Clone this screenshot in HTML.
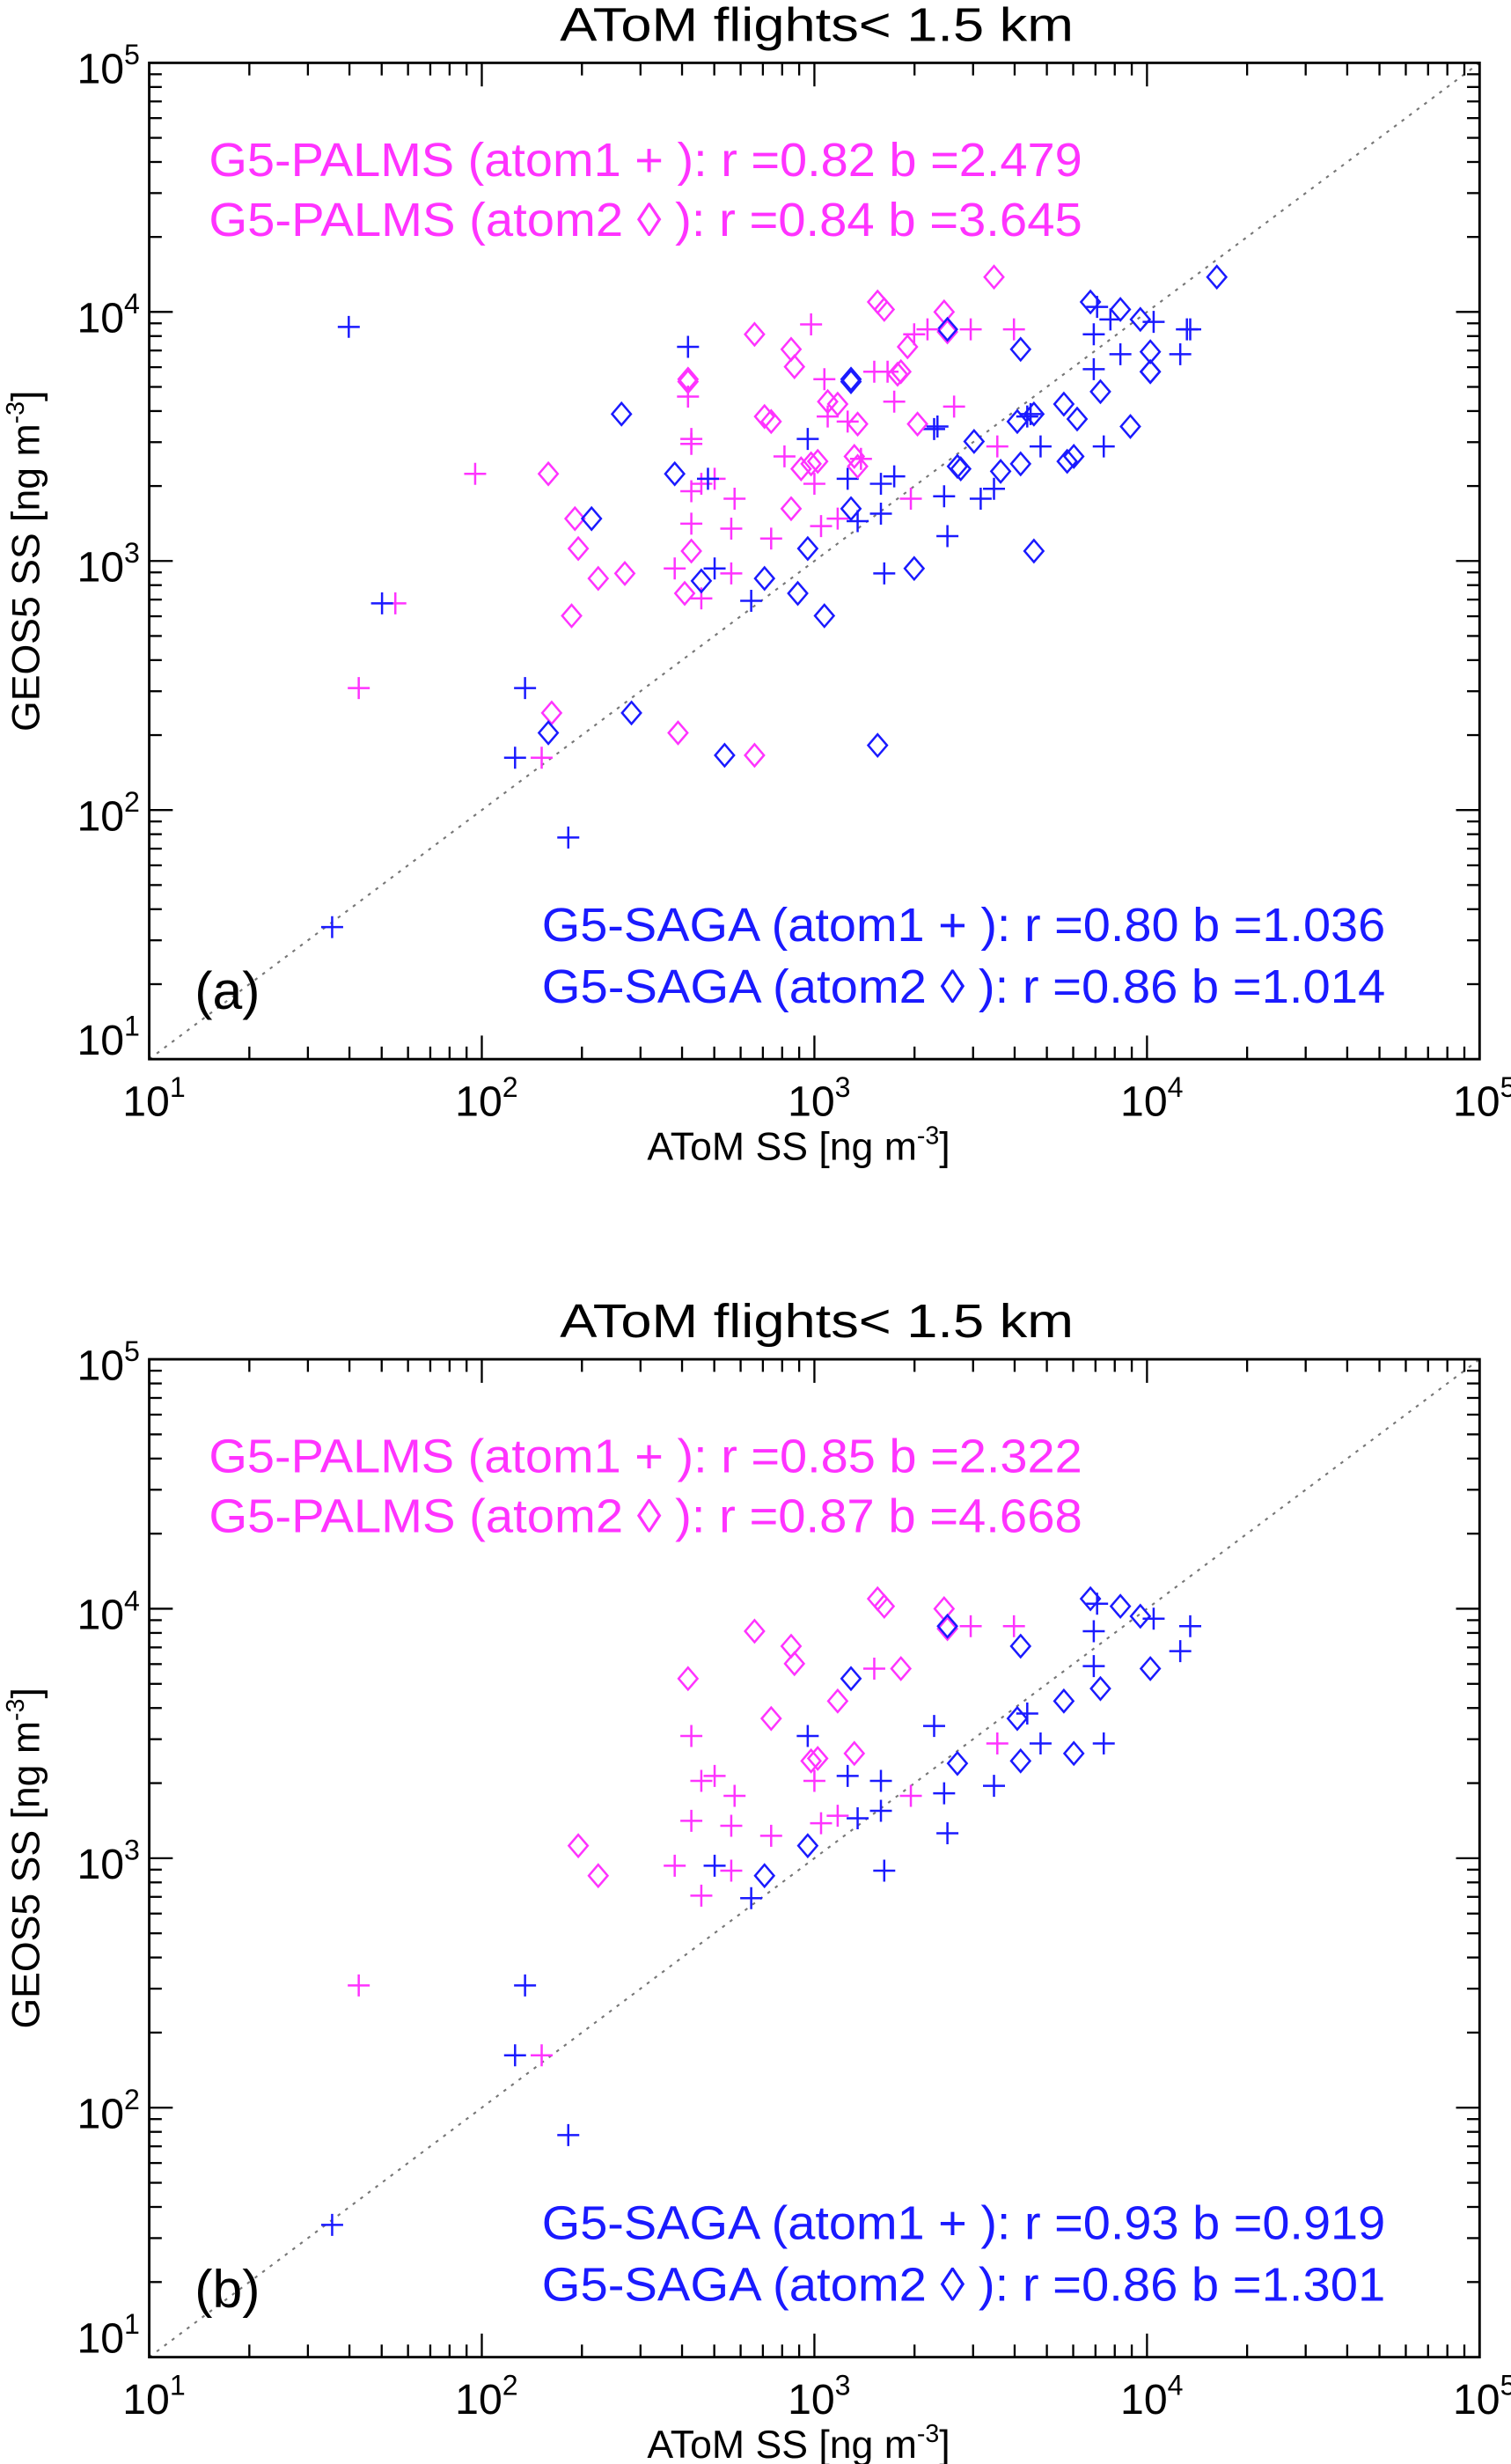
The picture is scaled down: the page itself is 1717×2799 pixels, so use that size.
<!DOCTYPE html>
<html><head><meta charset="utf-8"><title>AToM flights scatter</title>
<style>
html,body{margin:0;padding:0;background:#fff;}
svg{display:block;font-family:"Liberation Sans",Arial,sans-serif;}
</style></head>
<body>
<svg id="fig" xmlns="http://www.w3.org/2000/svg" width="1717" height="2799" viewBox="0 0 962 1568" preserveAspectRatio="none"></svg>
<script>
// Data (log10 of ng m^-3). Shared points appear in both panels; "extraA" only in panel (a).
const tickExps = [1, 2, 3, 4, 5];
const palmsPlusX = [1.63,2.18,2.58,2.63,2.63,2.66,2.70,2.66,2.75,2.75,2.76,2.87,3.00,3.02,3.07,3.18,3.29,3.47,3.55,3.60];
const palmsPlusY = [2.49,2.21,2.97,3.49,3.15,3.31,3.33,2.85,3.13,2.95,3.25,3.09,3.31,3.14,3.17,3.76,3.25,3.93,3.46,3.93];
const palmsPlusExtraX = [1.98,2.62,2.63,2.99,3.03,3.04,3.10,3.14,3.22,3.24,3.30,3.34,3.42,2.91,2.63,1.74];
const palmsPlusExtraY = [3.35,3.66,3.47,3.95,3.73,3.58,3.56,3.41,3.76,3.64,3.91,3.93,3.62,3.42,3.28,2.83];
const palmsDiaX = [2.29,2.35,2.62,2.82,2.87,2.93,2.94,2.99,3.01,3.07,3.12,3.19,3.21,3.26,3.39,3.40];
const palmsDiaY = [3.05,2.93,3.72,3.91,3.56,3.85,3.78,3.39,3.40,3.63,3.42,4.04,4.01,3.76,4.00,3.92];
const palmsDiaExtraX = [2.20,2.27,2.28,2.43,2.59,2.63,2.61,2.82,2.85,2.93,2.96,3.04,3.13,3.13,3.28,3.31,3.54,2.21,2.62,3.25];
const palmsDiaExtraY = [3.35,2.78,3.17,2.95,2.31,3.04,2.87,2.22,3.58,3.21,3.37,3.64,3.38,3.55,3.86,3.55,4.14,2.39,3.73,3.75];
const sagaPlusX = [1.55,2.10,2.13,2.26,2.70,2.81,2.98,3.10,3.13,3.20,3.20,3.21,3.36,3.39,3.40,3.54,3.64,3.68,3.84,3.84,3.87,4.02,4.10,4.13,3.85];
const sagaPlusY = [1.53,2.21,2.49,1.89,2.97,2.84,3.49,3.33,3.16,3.19,3.31,2.95,3.53,3.26,3.10,3.29,3.58,3.46,3.91,3.77,3.46,3.96,3.83,3.93,4.02];
const sagaPlusExtraX = [1.60,1.70,2.62,2.68,3.24,3.37,3.50,3.65,3.89,3.92,4.12];
const sagaPlusExtraY = [3.94,2.83,3.86,3.33,3.34,3.54,3.25,3.59,3.97,3.83,3.93];
const sagaDiaX = [2.85,2.98,3.11,3.40,3.43,3.62,3.61,3.62,3.75,3.78,3.83,3.86,3.92,3.98,4.01];
const sagaDiaY = [2.93,3.05,3.72,3.93,3.38,3.85,3.56,3.39,3.63,3.42,4.04,3.68,4.01,3.97,3.76];
const sagaDiaExtraX = [2.42,2.33,2.20,2.45,2.73,3.19,3.03,2.95,2.58,2.66,3.11,3.30,3.48,3.56,3.66,3.76,3.79,3.95,3.66,3.44,4.01,4.21,3.11,4.01];
const sagaDiaExtraY = [3.59,3.17,2.31,2.39,2.22,2.26,2.78,2.87,3.35,2.92,3.73,2.97,3.48,3.36,3.59,3.40,3.57,3.54,3.04,3.37,3.76,4.14,3.21,3.84];
const statsA = {pm1:"G5-PALMS (atom1 + ): r =0.82  b =2.479", pm2:"G5-PALMS (atom2 \u25CA ): r =0.84  b =3.645", sg1:"G5-SAGA (atom1 + ): r =0.80  b =1.036", sg2:"G5-SAGA (atom2 \u25CA ): r =0.86  b =1.014"};
const statsB = {pm1:"G5-PALMS (atom1 + ): r =0.85  b =2.322", pm2:"G5-PALMS (atom2 \u25CA ): r =0.87  b =4.668", sg1:"G5-SAGA (atom1 + ): r =0.93  b =0.919", sg2:"G5-SAGA (atom2 \u25CA ): r =0.86  b =1.301"};

const NS = "http://www.w3.org/2000/svg";
const svg = document.getElementById('fig');
const MAG = "#ff33ff", BLU = "#1a1aff";
function mk(tag, attrs, parent){const e=document.createElementNS(NS,tag);for(const k in attrs)e.setAttribute(k,attrs[k]);(parent||svg).appendChild(e);return e;}

function panel(top, bottom, label, stats, withExtra, pname){
  const L=95, R=942;
  const g = mk('g',{});
  
  
  const xs = v => L + (v-1)/4*(R-L);
  const ys = v => bottom - (v-1)/4*(bottom-top);
  const d = mk('line',{x1:xs(1),y1:ys(1),x2:xs(5),y2:ys(5),stroke:"#777","stroke-width":1.2,"stroke-dasharray":"2,4"},g);
  
  
  for(let e=1;e<5;e++){
    for(let m=1;m<10;m++){
      const lv = e+Math.log10(m);
      const major = m===1;
      const lx = major?15:8, ly = major?15:8;
      const X=xs(lv), Y=ys(lv);
      mk('line',{x1:X,y1:bottom,x2:X,y2:bottom-lx,stroke:"#000","stroke-width":1.3},g);
      mk('line',{x1:X,y1:top,x2:X,y2:top+lx,stroke:"#000","stroke-width":1.3},g);
      mk('line',{x1:L,y1:Y,x2:L+ly,y2:Y,stroke:"#000","stroke-width":1.3},g);
      mk('line',{x1:R,y1:Y,x2:R-ly,y2:Y,stroke:"#000","stroke-width":1.3},g);
    }
  }
  const box = mk('rect',{x:L,y:top,width:R-L,height:bottom-top,fill:"none",stroke:"#000","stroke-width":1.6},g);
  
  
  tickExps.forEach(e=>{
    const tx = mk('text',{x:xs(e)-17,y:bottom+36,"font-size":27},g);
    tx.textContent="10";
    const s=mk('tspan',{dy:-12,"font-size":18},tx); s.textContent=String(e);
    
    
    const off = e===1 ? -3 : 13;
    const ty = mk('text',{x:49,y:ys(e)+off,"font-size":27},g);
    ty.textContent="10";
    const s2=mk('tspan',{dy:-12,"font-size":18},ty); s2.textContent=String(e);
    
    
  });
  const t = mk('text',{x:520,y:top-14,"font-size":30,"text-anchor":"middle",textLength:327,lengthAdjust:"spacingAndGlyphs"},g);
  t.textContent="AToM flights< 1.5 km";
  
  
  const xt = mk('text',{x:412,y:bottom+64,"font-size":25},g);
  xt.textContent="AToM SS [ng m";
  const xs1=mk('tspan',{dy:-10,"font-size":16},xt); xs1.textContent="-3";
  const xs2=mk('tspan',{dy:10,"font-size":25},xt); xs2.textContent="]";
  
  
  const yt = mk('text',{x:0,y:0,"font-size":25,"text-anchor":"middle",transform:`translate(25,${(top+bottom)/2}) rotate(-90)`},g);
  yt.textContent="GEOS5 SS [ng m";
  const ys1=mk('tspan',{dy:-10,"font-size":16},yt); ys1.textContent="-3";
  const ys2=mk('tspan',{dy:10,"font-size":25},yt); ys2.textContent="]";
  
  
  const a1=mk('text',{x:133,y:top+72,"font-size":30,fill:MAG,textLength:556,lengthAdjust:"spacingAndGlyphs"},g); a1.textContent=stats.pm1;
  
  
  const a2=mk('text',{x:133,y:top+110,"font-size":30,fill:MAG,textLength:556,lengthAdjust:"spacingAndGlyphs"},g); a2.textContent=stats.pm2;
  
  
  const b1=mk('text',{x:345,y:bottom-75,"font-size":30,fill:BLU,textLength:537,lengthAdjust:"spacingAndGlyphs"},g); b1.textContent=stats.sg1;
  
  
  const b2=mk('text',{x:345,y:bottom-36,"font-size":30,fill:BLU,textLength:537,lengthAdjust:"spacingAndGlyphs"},g); b2.textContent=stats.sg2;
  
  
  const pl=mk('text',{x:124,y:bottom-32,"font-size":34},g); pl.textContent=label;
  
  
  function plus(xa,ya,col,name){
    xa.forEach((v,i)=>{
      const X=xs(v),Y=ys(ya[i]);
      const p=mk('path',{d:`M${X-7},${Y}H${X+7}M${X},${Y-7}V${Y+7}`,stroke:col,"stroke-width":1.4,fill:"none"},g);
      
      
    });
  }
  function dia(xa,ya,col,name){
    xa.forEach((v,i)=>{
      const X=xs(v),Y=ys(ya[i]);
      const p=mk('path',{d:`M${X},${Y-7}L${X+6},${Y}L${X},${Y+7}L${X-6},${Y}Z`,stroke:col,"stroke-width":1.4,fill:"none"},g);
      
      
    });
  }
  plus(palmsPlusX,palmsPlusY,MAG,'palms-atom1-point');
  dia(palmsDiaX,palmsDiaY,MAG,'palms-atom2-point');
  plus(sagaPlusX,sagaPlusY,BLU,'saga-atom1-point');
  dia(sagaDiaX,sagaDiaY,BLU,'saga-atom2-point');
  if(withExtra){
    plus(palmsPlusExtraX,palmsPlusExtraY,MAG,'palms-atom1-point');
    dia(palmsDiaExtraX,palmsDiaExtraY,MAG,'palms-atom2-point');
    plus(sagaPlusExtraX,sagaPlusExtraY,BLU,'saga-atom1-point');
    dia(sagaDiaExtraX,sagaDiaExtraY,BLU,'saga-atom2-point');
  }
}
panel(40, 674, "(a)", statsA, true, 'panel-a');
panel(865, 1500, "(b)", statsB, false, 'panel-b');
</script>
</body></html>
